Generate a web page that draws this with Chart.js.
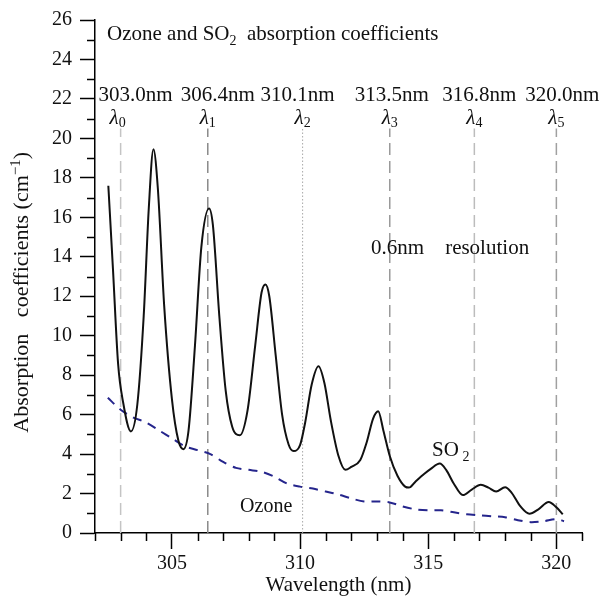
<!DOCTYPE html>
<html>
<head>
<meta charset="utf-8">
<script src="https://cdn.jsdelivr.net/npm/chart.js@4.4.1/dist/chart.umd.min.js"></script>
<style>
  html, body { margin: 0; padding: 0; background: #fff; }
</style>
</head>
<body>
<canvas id="chart" width="605" height="600"></canvas>
<script>
// SO2 absorption curve
const so2Wavelength = [302.52, 302.7, 302.9, 303.1, 303.4, 303.65, 303.9, 304.1, 304.28, 304.45, 304.7, 305.0, 305.25, 305.45, 305.65, 305.9, 306.15, 306.45, 306.6, 306.85, 307.1, 307.35, 307.65, 307.95, 308.25, 308.5, 308.65, 308.8, 309.05, 309.3, 309.55, 309.75, 310.0, 310.2, 310.45, 310.72, 310.95, 311.2, 311.5, 311.77, 312.0, 312.35, 312.6, 312.85, 313.05, 313.25, 313.5, 313.8, 314.1, 314.25, 314.5, 314.85, 315.1, 315.45, 315.7, 316.0, 316.35, 316.7, 317.05, 317.35, 317.65, 318.0, 318.25, 318.6, 318.95, 319.3, 319.7, 320.0, 320.25];
const so2Values = [17.6, 13.4, 8.6, 6.6, 5.15, 6.5, 11.0, 16.5, 19.45, 17.5, 11.5, 6.8, 4.7, 4.25, 5.2, 9.5, 14.5, 16.45, 15.6, 11.0, 7.2, 5.4, 4.95, 6.2, 9.5, 12.2, 12.6, 12.0, 9.0, 6.0, 4.5, 4.15, 4.45, 5.6, 7.5, 8.45, 7.6, 5.7, 3.9, 3.2, 3.35, 3.7, 4.6, 5.8, 6.17, 5.2, 3.9, 2.9, 2.35, 2.3, 2.6, 3.0, 3.25, 3.52, 3.2, 2.5, 1.92, 2.2, 2.44, 2.3, 2.1, 2.32, 2.05, 1.35, 0.98, 1.2, 1.57, 1.3, 0.95];

// Ozone absorption curve
const ozoneWavelength = [302.5, 303.0, 303.5, 304.0, 304.5, 305.0, 305.5, 306.0, 306.5, 307.0, 307.5, 308.0, 308.5, 309.0, 309.5, 310.0, 310.5, 311.0, 311.5, 312.0, 312.5, 313.0, 313.5, 314.0, 314.5, 315.0, 315.5, 316.0, 316.5, 317.0, 317.5, 318.0, 318.5, 319.0, 319.5, 320.0, 320.3];
const ozoneValues = [6.85, 6.25, 5.85, 5.6, 5.2, 4.8, 4.4, 4.2, 4.0, 3.6, 3.3, 3.2, 3.1, 2.85, 2.5, 2.35, 2.25, 2.1, 1.95, 1.75, 1.6, 1.6, 1.55, 1.35, 1.2, 1.15, 1.15, 1.05, 0.95, 0.9, 0.85, 0.8, 0.65, 0.55, 0.6, 0.7, 0.6];

// selected wavelengths
const lambdaNm = [303.0, 306.4, 310.1, 313.5, 316.8, 320.0];
const lambdaLabels = ['303.0nm', '306.4nm', '310.1nm', '313.5nm', '316.8nm', '320.0nm'];
const lambdaTop = 20.5;

// axes
const xMin = 302, xMax = 321;
const yMin = 0, yMax = 26;
const xTickLabels = [305, 310, 315, 320];
const yTickLabels = [0, 2, 4, 6, 8, 10, 12, 14, 16, 18, 20, 22, 24, 26];

const serif = "'Liberation Serif', 'Times New Roman', serif";

const lambdaStyles = [
  { color: '#c4c4c4', dash: [12, 6], width: 1.5 },
  { color: '#8a8a8a', dash: [12, 6], width: 1.5 },
  { color: '#a8a8a8', dash: [1.5, 2], width: 1 },
  { color: '#9a9a9a', dash: [12, 6], width: 1.5 },
  { color: '#bcbcbc', dash: [12, 6], width: 1.5 },
  { color: '#a0a0a0', dash: [12, 6], width: 1.5 }
];
// label nudges so the nm row does not run into the axis
const nmLabelShift = [15, 10, -5, 2, 5, 6];

const lambdaSets = lambdaNm.map((nm, i) => ({
  label: 'l' + i,
  data: [{ x: nm, y: 0 }, { x: nm, y: lambdaTop }],
  borderColor: lambdaStyles[i].color,
  borderDash: lambdaStyles[i].dash,
  borderWidth: lambdaStyles[i].width,
  pointRadius: 0,
  order: 3
}));

function drawParts(ctx, parts, x, y, align) {
  let total = 0;
  parts.forEach(p => {
    ctx.font = (p.italic ? 'italic ' : '') + (p.size || 21) + 'px ' + serif;
    p.w = ctx.measureText(p.t).width;
    total += p.w;
  });
  let cx = align === 'center' ? x - total / 2 : x;
  parts.forEach(p => {
    ctx.font = (p.italic ? 'italic ' : '') + (p.size || 21) + 'px ' + serif;
    ctx.fillText(p.t, cx, y + (p.dy || 0));
    cx += p.w;
  });
}

const decorations = {
  id: 'decorations',
  afterDraw(chart) {
    const ctx = chart.ctx;
    const xs = chart.scales.x, ys = chart.scales.y;
    const area = chart.chartArea;
    ctx.save();
    // minor ticks
    ctx.strokeStyle = '#000';
    ctx.lineWidth = 1.5;
    ctx.beginPath();
    for (let v = xMin; v <= xMax; v++) {
      if (xTickLabels.includes(v)) continue;
      const px = Math.round(xs.getPixelForValue(v)) + 0.5;
      ctx.moveTo(px, area.bottom);
      ctx.lineTo(px, area.bottom + 8);
    }
    for (let v = yMin; v <= yMax; v++) {
      if (yTickLabels.includes(v)) continue;
      const py = Math.round(ys.getPixelForValue(v)) + 0.5;
      ctx.moveTo(area.left - 8, py);
      ctx.lineTo(area.left, py);
    }
    ctx.stroke();

    ctx.fillStyle = '#111';
    ctx.textBaseline = 'alphabetic';
    ctx.textAlign = 'left';

    // title
    drawParts(ctx, [
      { t: 'Ozone and SO' },
      { t: '2', size: 14, dy: 5 },
      { t: '  absorption coefficients' }
    ], xs.getPixelForValue(302.47), ys.getPixelForValue(25.0), 'left');

    // wavelength labels and lambda symbols
    lambdaNm.forEach((nm, i) => {
      const px = xs.getPixelForValue(nm);
      drawParts(ctx, [{ t: lambdaLabels[i] }], px + nmLabelShift[i], ys.getPixelForValue(21.87), 'center');
      drawParts(ctx, [
        { t: 'λ', italic: true },
        { t: String(i), size: 14, dy: 3 }
      ], px + (i === 0 ? -3 : 0), ys.getPixelForValue(20.75), 'center');
    });

    // annotations
    drawParts(ctx, [{ t: '0.6nm    resolution' }], xs.getPixelForValue(312.77), ys.getPixelForValue(14.15), 'left');
    drawParts(ctx, [
      { t: 'SO' },
      { t: ' 2', size: 14, dy: 5 }
    ], xs.getPixelForValue(315.15), ys.getPixelForValue(3.9), 'left');
    drawParts(ctx, [{ t: 'Ozone', size: 20 }], xs.getPixelForValue(307.66), ys.getPixelForValue(1.07), 'left');

    // y axis title
    ctx.translate(28, ys.getPixelForValue(12.2));
    ctx.rotate(-Math.PI / 2);
    drawParts(ctx, [
      { t: 'Absorption   coefficients (cm', size: 22 },
      { t: '\u22121', size: 15, dy: -8 },
      { t: ')', size: 22 }
    ], 0, 0, 'center');
    ctx.restore();
  }
};

new Chart(document.getElementById('chart'), {
  type: 'line',
  data: {
    datasets: [
      {
        label: 'SO2',
        data: so2Wavelength.map((w, i) => ({ x: w, y: so2Values[i] })),
        borderColor: '#111',
        borderWidth: 2,
        pointRadius: 0,
        cubicInterpolationMode: 'monotone',
        order: 1
      },
      {
        label: 'Ozone',
        data: ozoneWavelength.map((w, i) => ({ x: w, y: ozoneValues[i] })),
        borderColor: '#25258c',
        borderWidth: 2,
        borderDash: [9, 7],
        pointRadius: 0,
        tension: 0.3,
        order: 2
      },
      ...lambdaSets
    ]
  },
  options: {
    responsive: false,
    animation: false,
    layout: { padding: { top: 14, right: 23, left: 0, bottom: 0 } },
    plugins: { legend: { display: false }, tooltip: { enabled: false } },
    scales: {
      x: {
        type: 'linear',
        min: xMin,
        max: xMax,
        afterFit(s) { s.height = 67; },
        border: { color: '#000', width: 1.5 },
        grid: {
          drawOnChartArea: false,
          tickLength: 16,
          tickWidth: 1.5,
          tickColor: c => (c.tick && xTickLabels.includes(c.tick.value)) ? '#000' : 'rgba(0,0,0,0)'
        },
        ticks: {
          stepSize: 1,
          autoSkip: false,
          maxRotation: 0,
          padding: 3,
          color: '#111',
          font: { family: serif, size: 20 },
          callback: v => xTickLabels.includes(v) ? String(v) : ''
        },
        title: {
          display: true,
          text: 'Wavelength (nm)',
          color: '#111',
          font: { family: serif, size: 21 },
          padding: { top: 0, bottom: 2 }
        }
      },
      y: {
        min: yMin,
        max: yMax,
        afterFit(s) { s.width = 95; },
        border: { color: '#000', width: 1.5 },
        grid: {
          drawOnChartArea: false,
          tickLength: 15,
          tickWidth: 1.5,
          tickColor: c => (c.tick && yTickLabels.includes(c.tick.value)) ? '#000' : 'rgba(0,0,0,0)'
        },
        ticks: {
          stepSize: 1,
          autoSkip: false,
          padding: 8,
          color: '#111',
          font: { family: serif, size: 20 },
          callback: v => yTickLabels.includes(v) ? String(v) : ''
        }
      }
    }
  },
  plugins: [decorations]
});
</script>
</body>
</html>
